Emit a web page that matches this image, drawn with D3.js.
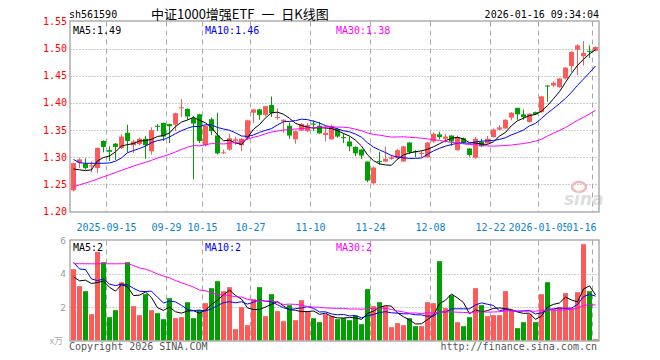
<!DOCTYPE html>
<html><head><meta charset="utf-8">
<script src="https://cdn.jsdelivr.net/npm/d3@7/dist/d3.min.js"></script>
<style>body{margin:0;background:#fff}svg{display:block}</style>
</head><body><svg id="c" width="660" height="360"></svg>
<script>
// ---------------- data ----------------
const dates = ["2025-09-05","2025-09-08","2025-09-09","2025-09-10","2025-09-11","2025-09-12",
"2025-09-15","2025-09-16","2025-09-17","2025-09-18","2025-09-19","2025-09-22","2025-09-23","2025-09-24","2025-09-25","2025-09-26",
"2025-09-29","2025-09-30","2025-10-09","2025-10-10","2025-10-13","2025-10-14",
"2025-10-15","2025-10-16","2025-10-17","2025-10-20","2025-10-21","2025-10-22","2025-10-23","2025-10-24",
"2025-10-27","2025-10-28","2025-10-29","2025-10-30","2025-10-31","2025-11-03","2025-11-04","2025-11-05","2025-11-06","2025-11-07",
"2025-11-10","2025-11-11","2025-11-12","2025-11-13","2025-11-14","2025-11-17","2025-11-18","2025-11-19","2025-11-20","2025-11-21",
"2025-11-24","2025-11-25","2025-11-26","2025-11-27","2025-11-28","2025-12-01","2025-12-02","2025-12-03","2025-12-04","2025-12-05",
"2025-12-08","2025-12-09","2025-12-10","2025-12-11","2025-12-12","2025-12-15","2025-12-16","2025-12-17","2025-12-18","2025-12-19",
"2025-12-22","2025-12-23","2025-12-24","2025-12-25","2025-12-26","2025-12-29","2025-12-30","2025-12-31",
"2026-01-05","2026-01-06","2026-01-07","2026-01-08","2026-01-09","2026-01-12","2026-01-13","2026-01-14","2026-01-15","2026-01-16"];

const open = [1.239,1.290,1.288,1.283,1.280,1.330,1.313,1.325,1.317,1.345,
1.322,1.324,1.334,1.311,1.358,1.363,1.361,1.360,1.390,1.389,
1.372,1.379,1.322,1.370,1.340,1.308,1.314,1.330,1.322,1.335,
1.382,1.388,1.378,1.396,1.373,1.366,1.358,1.333,1.349,1.348,
1.362,1.358,1.341,1.333,1.352,1.337,1.329,1.319,1.314,1.292,
1.252,1.293,1.292,1.297,1.298,1.292,1.327,1.311,1.306,1.300,
1.329,1.342,1.334,1.340,1.313,1.335,1.316,1.299,1.328,1.326,
1.337,1.351,1.353,1.373,1.391,1.379,1.365,1.383,1.383,1.432,
1.432,1.429,1.445,1.468,1.498,1.486,1.496,1.496];

const high = [1.290,1.298,1.298,1.292,1.318,1.331,1.320,1.326,1.342,1.360,
1.332,1.336,1.339,1.355,1.361,1.364,1.362,1.382,1.407,1.390,
1.376,1.380,1.359,1.373,1.382,1.314,1.343,1.338,1.335,1.369,
1.389,1.389,1.395,1.412,1.390,1.370,1.364,1.349,1.363,1.363,
1.368,1.365,1.357,1.360,1.354,1.344,1.338,1.320,1.315,1.292,
1.283,1.310,1.320,1.304,1.315,1.321,1.328,1.313,1.312,1.328,
1.346,1.347,1.343,1.340,1.340,1.336,1.317,1.337,1.334,1.339,
1.353,1.359,1.370,1.383,1.391,1.388,1.381,1.384,1.413,1.433,
1.440,1.446,1.466,1.495,1.508,1.514,1.506,1.504];

const low = [1.237,1.280,1.277,1.272,1.271,1.309,1.293,1.295,1.315,1.309,
1.308,1.322,1.297,1.305,1.348,1.330,1.326,1.348,1.374,1.369,
1.259,1.326,1.320,1.341,1.305,1.306,1.312,1.323,1.311,1.332,
1.363,1.369,1.375,1.374,1.369,1.345,1.334,1.325,1.348,1.346,
1.348,1.343,1.329,1.332,1.336,1.326,1.311,1.302,1.297,1.254,
1.250,1.286,1.291,1.295,1.296,1.291,1.306,1.300,1.300,1.299,
1.326,1.333,1.327,1.321,1.312,1.325,1.301,1.297,1.319,1.324,
1.336,1.349,1.352,1.368,1.369,1.369,1.364,1.378,1.382,1.402,
1.429,1.428,1.443,1.457,1.451,1.469,1.483,1.495];

const close = [1.289,1.296,1.280,1.285,1.317,1.319,1.310,1.319,1.338,1.330,
1.329,1.334,1.322,1.350,1.356,1.338,1.357,1.381,1.392,1.375,
1.362,1.330,1.358,1.348,1.307,1.309,1.335,1.333,1.334,1.368,
1.388,1.378,1.394,1.381,1.374,1.369,1.340,1.348,1.361,1.359,
1.360,1.344,1.345,1.357,1.338,1.335,1.320,1.307,1.303,1.257,
1.281,1.291,1.297,1.300,1.313,1.320,1.309,1.309,1.308,1.327,
1.343,1.337,1.338,1.329,1.337,1.326,1.304,1.334,1.320,1.334,
1.351,1.355,1.369,1.382,1.379,1.374,1.380,1.379,1.412,1.431,
1.437,1.445,1.465,1.494,1.506,1.492,1.495,1.503];

// volume, in units of 10k (万)
const volume = [4.28,3.26,2.96,1.58,5.32,4.70,1.40,1.82,3.50,4.70,
2.06,1.52,2.78,1.82,1.64,1.28,2.54,1.34,1.40,2.30,
1.34,1.82,2.24,3.14,3.56,2.96,3.20,0.68,2.00,0.92,
2.48,3.20,1.46,2.78,1.76,1.16,2.12,1.22,2.42,1.76,
1.34,1.10,1.58,1.46,1.28,1.34,1.22,1.50,0.98,3.08,
2.06,2.30,2.06,0.80,1.04,0.92,1.34,0.86,0.86,2.30,
2.24,4.76,1.94,2.72,1.10,0.86,1.40,3.14,2.12,1.46,
1.52,1.52,2.96,1.82,0.74,1.10,1.58,1.10,2.78,3.50,
1.88,2.00,2.84,1.94,2.90,5.78,2.96,0.08];

// sessions before the visible window (only feed the moving averages)
const priorClose = [1.178,1.185,1.183,1.192,1.198,1.195,1.204,1.210,1.215,1.212,
1.222,1.228,1.235,1.232,1.240,1.246,1.252,1.249,1.258,1.265,
1.356,1.290,1.285,1.317,1.319,1.3035,1.2875,1.2775,1.234];
const priorVolume = [3.4,3.0,1.7,5.2,4.6,1.5,1.9,3.4,4.6,
5.2,6.1,4.8,5.9,6.4,5.0,5.7,6.2,5.4,6.0,5.4,
7.26,3.36,7.18,6.32,3.7,4.46,2.76,2.58,5.02];

const maPeriods = [5, 10, 30];
const priceTicks = [1.20,1.25,1.30,1.35,1.40,1.45,1.50,1.55];
const volTicks = [2,4,6];
const xTickDates = ["2025-09-15","2025-09-29","2025-10-15","2025-10-27","2025-11-10","2025-11-24","2025-12-08","2025-12-22","2026-01-05","2026-01-16"];
const xTickLabels = ["2025-09-15","09-29","10-15","10-27","11-10","11-24","12-08","12-22","2026-01-05","01-16"];
const priceLegend = ["MA5:1.49","MA10:1.46","MA30:1.38"];
const volLegend = ["MA5:2","MA10:2","MA30:2"];
const code = "sh561590";
const title = "中证1000增强ETF 一 日K线图";
const stamp = "2026-01-16 09:34:04";

// ---------------- drawing ----------------
const svg = d3.select("#c");
const MONO = "'DejaVu Sans Mono', 'Liberation Mono', monospace";
const RED = "#ff5a5a", GREEN = "#00a000";
const maCol = ["#000000", "#0000ff", "#ff00ff"];

const L = 70.5, R = 598.5, PT = 21.5, PB = 211.5, VT = 240.5, VB = 340.5;
const x = d3.scaleBand().domain(dates).range([L, R]);
const bw = x.bandwidth();
const cx = d => x(d) + bw / 2;
const y = d3.scaleLinear().domain([1.20, 1.55]).range([PB, PT]);
const yv = d3.scaleLinear().domain([0, 6]).range([VB, VT]);

svg.append("rect").attr("width", 660).attr("height", 360).attr("fill", "#fff");

function ma(prior, vals, n) {
  const all = prior.concat(vals), off = prior.length;
  return vals.map((_, i) => d3.mean(all.slice(off + i - n + 1, off + i + 1)));
}

function panel(top, bottom, hTicks, ys) {
  const g = svg.append("g");
  g.selectAll(".h").data(hTicks).join("line")
    .attr("x1", L).attr("x2", R)
    .attr("y1", d => Math.round(ys(d)) + 0.5).attr("y2", d => Math.round(ys(d)) + 0.5)
    .attr("stroke", "#9a9a9a").attr("stroke-dasharray", "1,2");
  g.selectAll(".v").data(xTickDates).join("line")
    .attr("x1", d => x(d)).attr("x2", d => x(d))
    .attr("y1", top).attr("y2", bottom)
    .attr("stroke", "#a8a8a8").attr("stroke-dasharray", "5,4");
  return g;
}

// price panel grid
panel(PT, PB, priceTicks.filter(t => t > 1.2 && t < 1.55), y);
// volume panel grid
panel(VT, VB, volTicks.filter(t => t < 6), yv);

// watermark
const wm = svg.append("g");
wm.append("ellipse").attr("cx", 579).attr("cy", 187).attr("rx", 7).attr("ry", 5)
  .attr("fill", "none").attr("stroke", "#f2b8b8").attr("stroke-width", 2.5);
wm.append("text").attr("x", 564).attr("y", 205).text("sina")
  .attr("font-family", "'DejaVu Sans', sans-serif").attr("font-size", 17)
  .attr("font-style", "italic").attr("font-weight", "bold").attr("fill", "#dedede");

// candles
const idx = d3.range(dates.length);
const cg = svg.append("g");
cg.selectAll(".wick").data(idx).join("line")
  .attr("x1", i => cx(dates[i])).attr("x2", i => cx(dates[i]))
  .attr("y1", i => y(high[i])).attr("y2", i => y(low[i]))
  .attr("stroke", i => close[i] >= open[i] ? RED : GREEN).attr("stroke-width", 1);
cg.selectAll(".body").data(idx).join("rect")
  .attr("x", i => x(dates[i]) + 0.5).attr("width", bw - 1)
  .attr("y", i => y(Math.max(open[i], close[i])))
  .attr("height", i => Math.max(1, Math.abs(y(open[i]) - y(close[i]))))
  .attr("fill", i => close[i] >= open[i] ? RED : GREEN);

// volume bars
svg.append("g").selectAll("rect").data(idx).join("rect")
  .attr("x", i => x(dates[i]) + 0.5).attr("width", bw - 1)
  .attr("y", i => yv(volume[i])).attr("height", i => Math.max(1, yv(0) - yv(volume[i])))
  .attr("fill", i => close[i] >= open[i] ? RED : GREEN);

// moving averages
maPeriods.forEach((n, k) => {
  const pm = ma(priorClose, close, n);
  svg.append("path").datum(pm)
    .attr("d", d3.line().x((d, i) => cx(dates[i])).y(d => y(d)))
    .attr("fill", "none").attr("stroke", maCol[k]).attr("stroke-width", 1);
  const vm = ma(priorVolume, volume, n);
  svg.append("path").datum(vm)
    .attr("d", d3.line().x((d, i) => cx(dates[i])).y(d => yv(d)))
    .attr("fill", "none").attr("stroke", maCol[k]).attr("stroke-width", 1);
});

// borders
[[PT, PB], [VT, VB]].forEach(([t, b]) => {
  svg.append("rect").attr("x", L - 0.5).attr("y", t - 0.5).attr("width", R - L + 1).attr("height", b - t + 1)
    .attr("fill", "none").attr("stroke", "#999").attr("stroke-width", 1.2);
});

// legends
const legX = [73, 205, 336];
priceLegend.forEach((t, k) => svg.append("text").attr("x", legX[k]).attr("y", 34).text(t)
  .attr("font-family", MONO).attr("font-size", 10).attr("fill", maCol[k]));
volLegend.forEach((t, k) => svg.append("text").attr("x", legX[k]).attr("y", 251).text(t)
  .attr("font-family", MONO).attr("font-size", 10).attr("fill", maCol[k]));

// price axis labels
svg.append("g").selectAll("text").data(priceTicks).join("text")
  .attr("x", 67).attr("y", d => y(d) + 3.5).attr("text-anchor", "end")
  .text(d => d3.format(".2f")(d))
  .attr("font-family", MONO).attr("font-size", 10).attr("fill", "#ff0000");

// volume axis labels
svg.append("g").selectAll("text").data(volTicks).join("text")
  .attr("x", 66).attr("y", d => yv(d) + 3.5).attr("text-anchor", "end").text(d => d)
  .attr("font-family", "'DejaVu Sans', sans-serif").attr("font-size", 9).attr("fill", "#9a9a9a");
svg.append("text").attr("x", 63).attr("y", 344).attr("text-anchor", "end").text("x万")
  .attr("font-family", "'Noto Sans CJK SC', sans-serif").attr("font-size", 9).attr("fill", "#aaaaaa");

// date labels
const xl = svg.append("g");
xTickDates.forEach((d, k) => {
  const last = k === xTickDates.length - 1;
  const t = xl.append("text").attr("y", 231).text(xTickLabels[k])
    .attr("font-family", MONO).attr("font-size", 10).attr("fill", "#0a82d2");
  if (last) {
    const w = xTickLabels[k].length * 6.02;
    xl.insert("rect", "text:last-child").attr("x", R - w - 2).attr("y", 222).attr("width", w + 2).attr("height", 12).attr("fill", "#fff");
    t.attr("x", R - 2).attr("text-anchor", "end").raise();
  } else {
    t.attr("x", x(d)).attr("text-anchor", "middle");
  }
});

// header
svg.append("text").attr("x", 69).attr("y", 18).text(code)
  .attr("font-family", MONO).attr("font-size", 10).attr("fill", "#000");
svg.append("text").attr("x", 151).attr("y", 19).text(title)
  .attr("font-family", "'Noto Sans CJK SC', sans-serif").attr("font-size", 13)
  .attr("word-spacing", 4).attr("fill", "#000");
svg.append("text").attr("x", 599).attr("y", 18).attr("text-anchor", "end").text(stamp)
  .attr("font-family", MONO).attr("font-size", 10).attr("fill", "#000");

// footer
svg.append("text").attr("x", 69).attr("y", 350).text("Copyright 2026 SINA.COM")
  .attr("font-family", MONO).attr("font-size", 10).attr("fill", "#555");
svg.append("text").attr("x", 597).attr("y", 350).attr("text-anchor", "end").text("http://finance.sina.com.cn")
  .attr("font-family", MONO).attr("font-size", 10).attr("fill", "#555");
</script></body></html>
